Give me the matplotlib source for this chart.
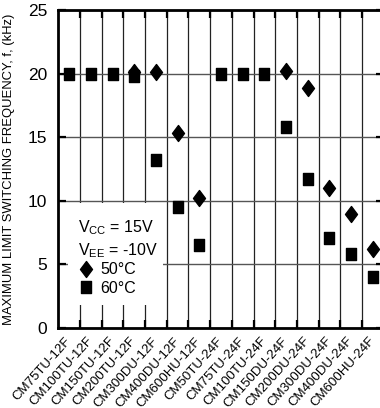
import numpy as np
import matplotlib
matplotlib.use("Agg")
import matplotlib.pyplot as plt
from matplotlib.path import Path
from matplotlib.lines import Line2D
from matplotlib.patches import Rectangle

plt.rcParams['font.family'] = ['Liberation Sans', 'DejaVu Sans']
plt.rcParams['mathtext.default'] = 'regular'

categories = ["CM75TU-12F", "CM100TU-12F", "CM150TU-12F", "CM200TU-12F",
              "CM300DU-12F", "CM400DU-12F", "CM600HU-12F", "CM50TU-24F",
              "CM75TU-24F", "CM100TU-24F", "CM150DU-24F", "CM200DU-24F",
              "CM300DU-24F", "CM400DU-24F", "CM600HU-24F"]
freq_50C = [np.nan, np.nan, np.nan, 20.1, 20.1, 15.3, 10.2, np.nan,
            np.nan, np.nan, 20.2, 18.9, 11.0, 9.0, 6.2]
freq_60C = [20.0, 20.0, 20.0, 19.8, 13.2, 9.5, 6.5, 20.0,
            20.0, 20.0, 15.8, 11.7, 7.1, 5.8, 4.0]
y_ticks = [0, 5, 10, 15, 20, 25]

diamond = Path([(0, 1), (0.75, 0), (0, -1), (-0.75, 0), (0, 1)],
               [Path.MOVETO, Path.LINETO, Path.LINETO, Path.LINETO, Path.CLOSEPOLY])
square = Path([(-0.82, -1), (0.82, -1), (0.82, 1), (-0.82, 1), (-0.82, -1)],
              [Path.MOVETO, Path.LINETO, Path.LINETO, Path.LINETO, Path.CLOSEPOLY])

W, H = 380, 408
fig = plt.figure(figsize=(W / 100, H / 100), dpi=100)
left_px, right_px, top_px, bot_px = 58.3, 383.7, 10.0, 328.0
ax = fig.add_axes([left_px / W, 1 - bot_px / H, (right_px - left_px) / W, (bot_px - top_px) / H])

x = np.arange(len(categories))
ax.plot(x, freq_50C, linestyle='none', marker=diamond, markersize=11.5,
        color='black', zorder=3, label='50°C')
ax.plot(x, freq_60C, linestyle='none', marker=square, markersize=8.5,
        color='black', zorder=4, label='60°C')

ax.set_xlim(-0.5, len(categories) - 0.5)
ax.set_ylim(0, 25)
ax.set_yticks(y_ticks)
ax.set_yticklabels([str(t) for t in y_ticks], fontsize=12.5)

ax.set_xticks(x)
ax.set_xticklabels(categories, rotation=48, ha='right', va='center',
                   rotation_mode='anchor', fontsize=9.5)
ax.set_xticks(x[:-1] + 0.5, minor=True)
ax.tick_params(axis='x', which='major', length=0, pad=8)
ax.tick_params(axis='x', which='minor', direction='in', length=6, width=1.6,
               top=True, bottom=True, color='black')
ax.tick_params(axis='y', which='major', direction='in', length=6, width=1.6,
               left=True, right=True, pad=8)

ax.set_axisbelow(True)
ax.grid(True, axis='x', which='minor', color='#222222', linewidth=0.9)
ax.grid(True, axis='y', which='major', color='#555555', linewidth=1.0)
ax.grid(False, axis='x', which='major')

for s in ax.spines.values():
    s.set_linewidth(2.0)

ax.set_ylabel("MAXIMUM LIMIT SWITCHING FREQUENCY, f, (kHz)", fontsize=9.4)
ax.yaxis.set_label_coords(-(left_px - 15) / (right_px - left_px), 0.5)

def ax_x(px):
    return (px - left_px) / (right_px - left_px)

def ax_y(py):
    return (bot_px - py) / (bot_px - top_px)

ax.add_patch(Rectangle((ax_x(68), ax_y(305)), ax_x(163) - ax_x(68), ax_y(203) - ax_y(305),
                       transform=ax.transAxes, facecolor='white', edgecolor='none', zorder=1))
ax.text(ax_x(78), ax_y(232), "V$_{CC}$ = 15V", transform=ax.transAxes,
        fontsize=11.5, va='baseline', ha='left', zorder=5)
ax.text(ax_x(78), ax_y(255), "V$_{EE}$ = -10V", transform=ax.transAxes,
        fontsize=11.5, va='baseline', ha='left', zorder=5)

handles = [Line2D([], [], linestyle='none', marker=diamond, markersize=11.5, color='black'),
           Line2D([], [], linestyle='none', marker=square, markersize=8.5, color='black')]
leg = ax.legend(handles, ['50°C', '60°C'], loc='center left',
                bbox_to_anchor=(ax_x(78), ax_y(279)), frameon=False, fontsize=11.5,
                borderpad=0, borderaxespad=0, handlelength=1.0, handletextpad=0.4,
                labelspacing=0.2, numpoints=1)
leg.set_zorder(5)

fig.savefig("out.png", dpi=100)
